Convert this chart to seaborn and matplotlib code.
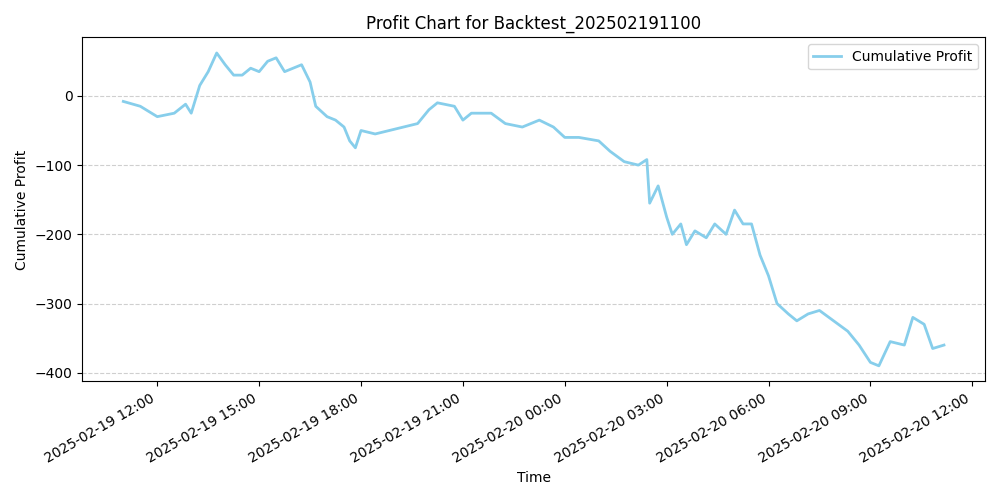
import matplotlib
matplotlib.use("Agg")
import matplotlib.pyplot as plt
import matplotlib.dates as mdates
import seaborn as sns
import pandas as pd

times = ["2025-02-19 11:00","2025-02-19 11:30","2025-02-19 12:00","2025-02-19 12:30","2025-02-19 12:50",
"2025-02-19 13:00","2025-02-19 13:15","2025-02-19 13:30","2025-02-19 13:45","2025-02-19 14:00",
"2025-02-19 14:15","2025-02-19 14:30","2025-02-19 14:45","2025-02-19 15:00","2025-02-19 15:15",
"2025-02-19 15:30","2025-02-19 15:45","2025-02-19 16:00","2025-02-19 16:15","2025-02-19 16:30",
"2025-02-19 16:40","2025-02-19 17:00","2025-02-19 17:15","2025-02-19 17:30","2025-02-19 17:40",
"2025-02-19 17:50","2025-02-19 18:00","2025-02-19 18:25","2025-02-19 18:50","2025-02-19 19:15",
"2025-02-19 19:40","2025-02-19 20:00","2025-02-19 20:15","2025-02-19 20:45","2025-02-19 21:00",
"2025-02-19 21:15","2025-02-19 21:50","2025-02-19 22:15","2025-02-19 22:45","2025-02-19 23:15",
"2025-02-19 23:40","2025-02-20 00:00","2025-02-20 00:25","2025-02-20 01:00","2025-02-20 01:20",
"2025-02-20 01:45","2025-02-20 02:10","2025-02-20 02:25","2025-02-20 02:30","2025-02-20 02:45",
"2025-02-20 03:00","2025-02-20 03:10","2025-02-20 03:25","2025-02-20 03:35","2025-02-20 03:50",
"2025-02-20 04:10","2025-02-20 04:25","2025-02-20 04:45","2025-02-20 05:00","2025-02-20 05:15",
"2025-02-20 05:30","2025-02-20 05:45","2025-02-20 06:00","2025-02-20 06:15","2025-02-20 06:35",
"2025-02-20 06:50","2025-02-20 07:10","2025-02-20 07:30","2025-02-20 07:55","2025-02-20 08:20",
"2025-02-20 08:40","2025-02-20 09:00","2025-02-20 09:15","2025-02-20 09:35","2025-02-20 10:00",
"2025-02-20 10:15","2025-02-20 10:35","2025-02-20 10:50","2025-02-20 11:10"]
profit = [-8,-15,-30,-25,-12,-25,15,35,62,45,30,30,40,35,50,55,35,40,45,20,
-15,-30,-35,-45,-65,-75,-50,-55,-50,-45,-40,-20,-10,-15,-35,-25,-25,-40,-45,-35,
-45,-60,-60,-65,-80,-95,-100,-92,-155,-130,-175,-200,-185,-215,-195,-205,-185,-200,-165,-185,
-185,-230,-260,-300,-315,-325,-315,-310,-325,-340,-360,-385,-390,-355,-360,-320,-330,-365,-360]

df = pd.DataFrame({"Time": pd.to_datetime(times), "Cumulative Profit": profit})

fig, ax = plt.subplots(figsize=(10, 5), dpi=100)
sns.lineplot(data=df, x="Time", y="Cumulative Profit", ax=ax, color="skyblue", linewidth=2, label="Cumulative Profit")
ax.set_title("Profit Chart for Backtest_202502191100")
ax.grid(axis="y", linestyle="--", alpha=0.6)
ax.xaxis.set_major_locator(mdates.HourLocator(byhour=range(0, 24, 3)))
ax.xaxis.set_major_formatter(mdates.DateFormatter("%Y-%m-%d %H:%M"))
ax.legend(loc="upper right")
fig.autofmt_xdate()
fig.tight_layout()
fig.savefig("out.png")
